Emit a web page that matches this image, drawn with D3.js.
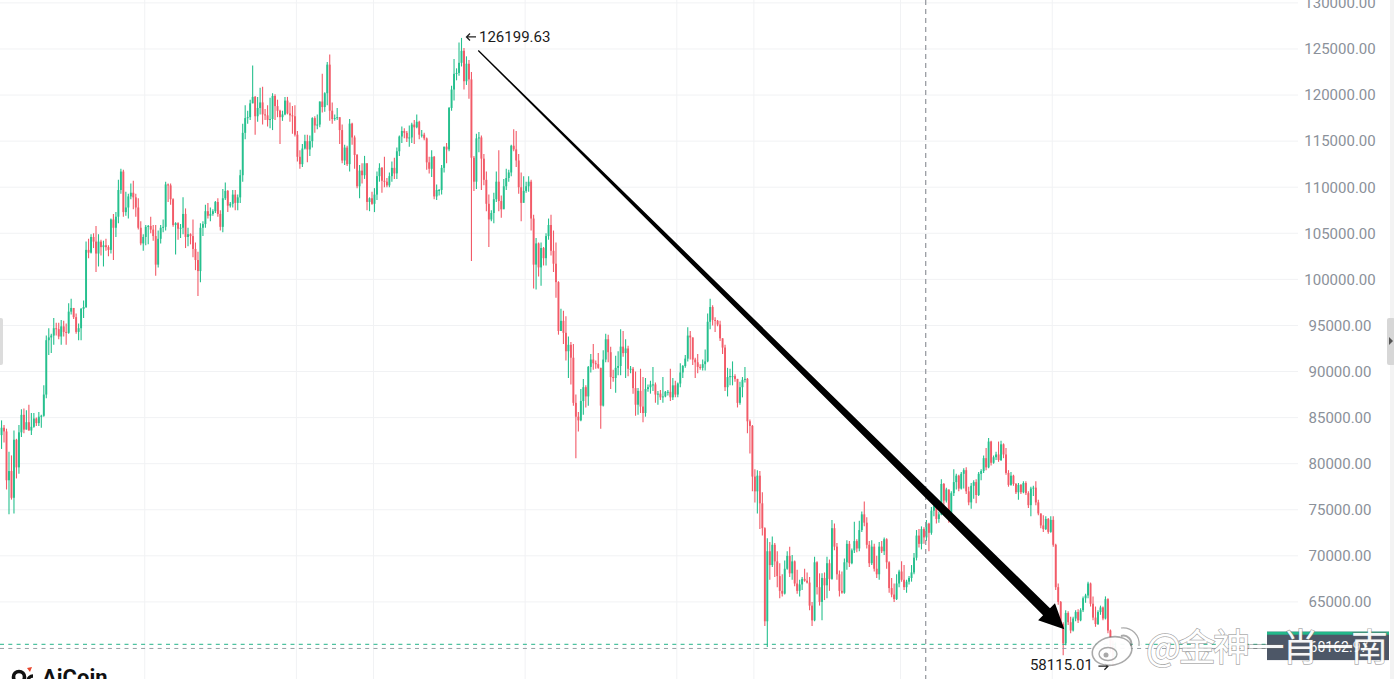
<!DOCTYPE html>
<html lang="en">
<head>
<meta charset="utf-8">
<title>BTC daily candles</title>
<script src="https://cdn.jsdelivr.net/npm/d3@7/dist/d3.min.js"></script>
<style>
  html, body { margin: 0; padding: 0; background: #fff; overflow: hidden; }
  svg { display: block; }
</style>
</head>
<body>
<script>
var w = 1394, h = 679;

// first candle day, one candle per day after it
var startDay = "2025-04-03";
var firstOpen = 82.5;

// daily close / high / low, thousand USD
var closes = [
  // 2025-04
  83.1,83.9,83.5,78.2,79.2,76.3,82.6,79.6,83.4,85.3,83.7,84.5,83.6,84.0,84.9,84.4,85.1,85.2,87.5,93.4,93.7,93.9,94.7,94.6,93.8,94.9,94.3,94.2,
  // 2025-05
  96.5,96.9,95.9,94.3,94.7,96.8,97.0,103.2,102.9,104.6,104.1,102.8,104.1,103.5,103.7,103.5,103.2,106.5,105.6,106.8,109.7,111.7,107.3,107.8,109.0,109.4,108.9,107.8,105.6,103.9,104.6,
  // 2025-06
  105.7,105.8,105.4,104.7,101.6,104.4,105.6,105.7,110.3,110.2,108.7,105.9,106.1,105.5,105.6,107.1,104.6,104.9,104.7,103.3,102.1,100.9,105.6,106.0,107.4,106.9,107.1,107.4,108.4,107.1,
  // 2025-07
  105.7,108.8,109.6,108.0,108.2,109.2,108.3,108.9,111.3,115.9,117.5,117.6,119.1,119.8,117.7,118.6,119.2,117.9,117.8,117.3,117.4,119.9,118.8,118.3,117.6,117.9,119.4,118.0,117.8,117.7,115.7,
  // 2025-08
  113.3,112.5,114.2,115.0,114.1,115.0,117.5,116.7,116.8,119.3,118.7,120.2,123.3,118.3,117.4,117.5,117.6,116.2,112.9,114.3,112.5,116.9,115.4,113.5,110.1,111.8,111.3,112.6,108.4,108.8,108.2,
  // 2025-09
  109.2,111.2,112.1,110.7,110.6,110.2,111.2,112.1,111.5,113.9,115.5,116.1,115.9,115.3,115.4,116.8,116.5,117.1,115.7,115.7,115.3,112.7,112.0,113.3,109.0,109.7,109.7,112.1,114.4,114.1,
  // 2025-10
  118.6,120.6,122.3,122.4,123.5,124.8,121.5,123.4,121.7,113.2,110.6,115.3,115.4,113.1,110.8,108.2,106.5,107.2,108.7,110.6,108.5,107.6,110.1,111.0,111.6,114.5,114.1,112.9,110.0,108.3,109.6,
  // 2025-11
  110.1,110.6,106.6,101.6,103.9,101.3,103.4,102.3,104.7,105.9,103.1,101.7,99.7,94.4,95.5,94.2,92.2,92.9,91.5,86.6,85.1,84.7,86.8,88.3,87.3,90.5,91.3,90.9,90.8,90.4,
  // 2025-12
  86.3,91.3,93.5,92.1,89.4,89.3,90.4,90.6,92.7,92.0,92.5,90.3,90.3,88.2,86.4,87.9,86.2,85.5,88.1,88.3,88.6,88.6,87.5,87.6,87.2,87.3,87.8,87.8,87.2,88.5,87.5,
  // 2026-01
  88.7,89.9,90.6,91.4,93.9,93.7,91.3,91.0,90.5,90.4,90.8,91.1,95.4,97.0,95.6,95.5,95.1,93.6,92.6,88.3,89.4,89.5,89.5,89.2,86.6,88.3,89.1,89.2,84.6,84.1,78.6,
  // 2026-02
  77.0,78.7,75.7,73.0,62.9,70.5,69.0,71.2,69.4,67.8,66.2,65.9,68.6,70.0,68.1,69.4,67.0,66.2,66.9,67.5,67.3,67.1,64.6,63.0,69.3,66.6,65.0,67.6,
  // 2026-03
  66.8,69.2,67.5,73.0,71.0,68.0,66.2,66.0,69.3,71.3,69.2,70.6,71.6,70.8,72.8,74.5,73.6,71.2,69.2,71.0,68.6,68.0,71.0,70.5,71.8,69.3,66.5,65.8,65.3,67.0,68.3,
  // 2026-04
  67.4,66.6,67.2,67.6,68.2,69.8,72.2,71.3,72.9,72.0,73.5,72.5,74.9,75.4,74.0,74.5,77.8,76.0,77.2,74.2,76.8,78.0,78.7,77.3,78.9,79.3,77.0,75.8,77.6,78.0,
  // 2026-05
  76.6,78.9,79.2,80.6,79.6,82.4,80.1,80.7,81.0,80.4,82.1,81.0,79.0,77.7,78.7,77.8,76.9,77.7,76.9,77.9,76.8,75.5,77.3,77.4,75.8,74.6,73.3,72.9,74.0,72.6,73.9,
  // 2026-06
  71.2,66.6,65.0,62.6,60.5,63.8,62.8,61.9,63.2,63.9,63.0,64.1,65.4,65.7,67.0,64.8,63.3,62.6,63.9,64.4,63.2,65.3,61.9,60.2,59.0,60.16297
];
var highs = [
  83.9,84.7,84.2,83.8,81.3,80.9,83.6,82.7,84.2,85.9,86.0,85.8,86.4,85.5,85.5,85.0,85.6,85.3,88.5,93.9,94.7,94.1,95.8,95.3,95.3,95.6,95.5,95.2,
  97.4,97.9,96.9,96.3,95.2,96.9,97.7,104.1,104.4,104.9,105.0,105.8,104.9,104.3,104.2,104.4,103.7,106.6,107.1,107.3,110.8,112.0,111.9,109.5,109.3,110.4,110.7,109.3,108.8,106.3,104.9,
  105.9,105.9,106.8,105.9,105.9,105.3,105.9,106.5,110.6,110.4,110.4,108.8,106.2,106.2,106.0,108.9,107.7,105.6,105.0,106.5,104.0,103.0,106.1,106.3,108.1,108.3,107.8,107.6,108.5,108.8,
  107.5,109.8,110.5,109.7,108.4,109.7,109.7,109.2,111.9,116.9,118.9,118.3,119.5,123.2,119.9,119.8,120.8,120.9,118.5,118.9,119.7,120.2,120.1,119.5,118.4,118.3,119.8,119.8,119.2,118.8,118.9,
  116.1,114.0,114.7,115.7,115.7,115.6,117.6,117.7,117.9,119.3,122.3,120.3,123.6,124.4,119.2,117.9,118.6,117.6,116.8,114.6,114.5,117.4,117.0,115.6,113.6,112.4,112.6,113.4,112.6,108.9,109.5,
  109.9,111.7,112.6,112.2,113.3,111.0,111.6,112.8,113.2,114.3,115.6,116.6,116.4,116.1,116.7,117.0,117.3,117.9,117.2,116.2,115.9,115.4,113.3,114.0,113.4,110.3,109.8,112.4,114.4,114.8,
  118.7,121.0,123.9,122.9,125.7,126.19963,125.1,124.2,123.8,122.5,113.4,115.8,116.0,115.6,113.6,111.7,109.2,107.5,109.4,111.7,114.0,109.1,110.9,112.0,111.9,114.6,116.3,116.1,113.6,111.6,111.2,
  110.6,111.2,110.8,107.0,104.5,104.0,104.0,103.5,105.0,106.6,107.0,105.3,104.0,99.8,96.8,96.6,96.0,93.8,93.2,93.0,87.5,85.6,88.1,89.2,88.5,90.6,91.9,93.0,91.2,92.0,
  90.4,92.3,94.1,94.0,92.7,90.2,91.7,92.2,94.6,94.4,93.5,92.8,90.6,90.5,90.0,88.2,90.3,89.4,89.3,88.6,89.0,90.5,88.8,87.9,88.0,89.4,87.9,88.0,90.3,89.3,89.0,
  88.8,90.9,90.7,91.8,94.8,94.4,93.7,91.5,91.9,90.8,91.3,92.4,96.3,97.9,97.2,95.9,95.6,95.5,93.6,92.9,90.4,90.3,91.1,89.7,89.2,88.9,89.4,90.5,89.3,84.8,84.2,
  79.4,79.3,79.2,76.9,73.1,71.9,71.5,72.1,71.4,70.5,69.2,68.0,69.5,70.5,71.0,70.1,69.5,68.5,67.4,67.7,68.6,68.2,67.7,65.0,69.9,69.4,68.1,68.1,
  68.2,69.9,69.6,73.9,73.5,71.4,68.4,68.3,69.7,71.7,71.6,70.8,73.7,71.8,73.8,74.8,75.9,74.2,71.6,71.7,71.3,70.0,71.5,71.6,72.0,71.9,69.4,67.6,67.0,68.0,68.5,
  69.4,69.0,67.4,67.8,69.0,70.3,72.8,72.9,73.2,73.1,73.9,73.6,75.3,75.9,75.6,74.8,78.3,77.9,77.4,77.2,77.0,79.4,78.9,78.8,79.1,79.5,79.6,77.5,77.9,78.2,
  78.3,79.1,79.4,80.9,81.7,82.8,82.5,80.9,81.3,82.4,82.5,82.2,81.7,79.3,79.1,78.8,77.9,77.9,77.8,78.1,78.1,77.0,77.5,77.6,78.1,76.1,74.6,74.4,74.3,74.1,74.3,
  74.3,71.3,67.0,65.1,62.8,64.1,64.0,63.4,63.4,64.1,64.2,64.3,65.6,65.9,67.2,67.1,65.6,64.5,64.1,64.6,64.5,65.6,65.4,62.0,60.8,60.6
];
var lows = [
  81.2,81.6,82.3,77.2,74.5,76.1,74.6,78.4,78.9,82.9,83.3,83.7,83.6,83.1,83.9,84.1,84.1,83.9,85.1,87.1,91.8,92.0,92.9,93.9,93.5,92.9,93.8,92.9,
  94.1,96.2,95.7,94.1,93.4,93.4,95.8,96.9,102.3,102.8,103.4,100.8,101.4,102.6,101.4,103.1,102.5,102.8,102.1,104.6,106.1,109.3,106.8,106.9,106.6,108.7,107.6,106.8,105.4,103.7,103.1,
  103.7,103.8,105.0,104.2,100.4,101.3,103.9,105.1,105.3,108.4,108.1,105.7,102.7,104.3,104.5,104.9,103.4,103.6,103.8,102.4,101.0,98.2,99.7,104.7,105.6,106.6,106.3,106.9,107.2,106.8,
  105.3,105.1,108.6,107.3,107.8,107.8,107.5,107.5,108.3,110.6,115.2,116.9,117.3,119.1,115.7,117.1,117.9,116.8,117.3,116.6,116.4,116.2,117.3,117.6,114.7,117.2,117.8,117.9,117.1,115.8,115.5,
  112.8,112.0,112.2,114.1,112.7,113.4,114.3,115.9,116.3,116.5,118.1,118.2,118.9,117.2,116.9,117.2,117.3,114.7,112.6,112.4,112.3,111.7,114.6,112.0,109.9,108.8,110.4,110.9,107.5,107.4,108.1,
  107.3,108.6,110.6,109.4,110.0,110.0,110.0,110.6,110.9,110.9,113.4,114.8,115.3,114.9,114.4,114.8,114.7,116.4,115.2,115.4,115.1,111.9,111.5,111.1,108.7,108.6,109.1,109.2,111.6,112.6,
  113.9,118.3,119.4,121.6,122.1,123.1,120.6,121.1,119.6,102.0,109.6,109.8,113.8,109.7,110.2,107.4,103.5,106.3,106.1,108.4,107.4,106.7,107.7,109.7,110.6,111.2,113.9,112.2,109.3,106.3,108.6,
  109.4,109.5,105.3,99.0,98.9,100.3,99.3,101.5,101.5,104.3,102.6,100.8,98.0,94.0,94.4,93.0,91.2,89.3,88.6,86.3,80.6,83.5,84.6,85.3,86.1,86.3,89.9,90.2,90.3,90.3,
  83.8,86.2,91.0,91.0,88.1,88.9,87.7,89.6,89.6,91.6,89.3,89.5,89.8,87.6,85.2,85.3,85.5,84.5,85.1,87.8,87.6,87.9,86.6,86.4,86.9,86.6,87.2,87.4,86.8,86.9,87.2,
  87.2,88.3,89.3,90.4,91.1,91.3,90.7,89.3,89.8,90.2,90.1,90.1,91.0,94.6,95.0,94.3,94.9,93.3,91.9,87.9,87.3,88.5,88.5,88.9,86.1,86.4,87.2,88.8,83.3,81.1,77.0,
  75.8,74.6,72.9,72.2,62.4,60.1,67.4,68.8,67.7,66.6,65.4,65.6,65.8,68.5,67.7,67.4,66.7,65.9,65.6,66.3,67.2,67.0,64.1,62.4,62.9,65.8,64.6,63.0,
  65.2,65.4,66.2,67.4,70.6,67.4,65.6,65.9,65.9,68.5,68.8,69.1,70.3,70.4,70.5,72.6,73.2,70.8,68.8,69.0,68.3,67.6,67.4,70.3,70.1,68.6,66.0,65.5,65.0,65.2,66.6,
  67.2,66.3,66.0,66.9,67.2,68.0,69.5,70.9,70.7,71.3,71.6,70.5,72.3,74.3,73.5,73.6,74.4,75.2,75.8,73.6,74.1,76.5,77.2,77.0,77.2,77.3,76.7,75.5,75.1,76.2,
  75.7,76.5,78.2,79.0,79.3,79.5,79.8,80.0,80.4,80.2,80.3,80.6,78.8,77.5,77.6,77.6,76.7,76.1,76.7,76.8,76.6,75.2,74.3,76.5,75.5,74.4,73.0,72.6,72.8,72.4,72.5,
  71.0,66.3,64.7,62.3,59.2,60.3,62.5,61.6,61.8,62.9,62.7,62.9,63.9,64.9,65.4,64.5,63.0,62.3,62.5,63.6,63.0,63.1,61.6,59.5,58.11501,58.7
];

// price levels shown on the axis (60000 sits under the last-price tag)
var priceTicks = [65, 70, 75, 80, 85, 90, 95, 100, 105, 110, 115, 120, 125, 130];
var gridMonths = ["2025-06-01", "2025-08-01", "2025-09-01", "2025-11-01",
                  "2026-01-01", "2026-02-01", "2026-04-01", "2026-06-01"];

// trend arrow drawn on the chart, [candle index, price]
var arrowFrom = [192.75, 124.83];
var arrowTo = [428.46, 62.03];
// crosshair
var crossIndex = 372.7;
var crossPrice = 59.95;

var watermark = "@金神一肖一南";

var upColor = "#26c08e", downColor = "#f25b68";

var svg = d3.select("body").append("svg")
  .attr("width", w)
  .attr("height", h);

var x = d3.scaleLinear().domain([0, closes.length - 1]).range([-0.95, 1115.4]);
var y = d3.scaleLinear().domain([60, 130]).range([648, 2.9]);
var parseDay = d3.utcParse("%Y-%m-%d");
var day0 = parseDay(startDay);

var candles = closes.map(function(c, i) {
  return { i: i, o: i ? closes[i - 1] : firstOpen, c: c, h: highs[i], l: lows[i] };
});

// grid
svg.append("g").selectAll("line")
  .data(priceTicks)
  .enter()
  .append("line")
  .attr("x1", 0).attr("x2", 1298)
  .attr("y1", function(d) { return y(d); })
  .attr("y2", function(d) { return y(d); })
  .attr("stroke", "#f1f2f4");

svg.append("g").selectAll("line")
  .data(gridMonths)
  .enter()
  .append("line")
  .attr("x1", function(d) { return x(d3.utcDay.count(day0, parseDay(d))) - 1; })
  .attr("x2", function(d) { return x(d3.utcDay.count(day0, parseDay(d))) - 1; })
  .attr("y1", 0).attr("y2", h)
  .attr("stroke", "#f1f2f4");

// candles
var cg = svg.append("g");
cg.selectAll("line")
  .data(candles)
  .enter()
  .append("line")
  .attr("x1", function(d) { return x(d.i); })
  .attr("x2", function(d) { return x(d.i); })
  .attr("y1", function(d) { return y(d.h); })
  .attr("y2", function(d) { return y(d.l); })
  .attr("stroke", function(d) { return d.c >= d.o ? upColor : downColor; })
  .attr("stroke-width", 1.1);

cg.selectAll("rect")
  .data(candles)
  .enter()
  .append("rect")
  .attr("x", function(d) { return x(d.i) - 0.95; })
  .attr("width", 1.9)
  .attr("y", function(d) { return y(Math.max(d.o, d.c)); })
  .attr("height", function(d) { return Math.max(1, Math.abs(y(d.o) - y(d.c))); })
  .attr("fill", function(d) { return d.c >= d.o ? upColor : downColor; });

// last price line and crosshair
var lastClose = closes[closes.length - 1];
var yLast = y(lastClose) - 0.6;

svg.append("line")
  .attr("x1", 0).attr("x2", 1267)
  .attr("y1", yLast - 1.6).attr("y2", yLast - 1.6)
  .attr("stroke", "#23b389")
  .attr("stroke-dasharray", "4,4.3");

svg.append("line")
  .attr("x1", 0).attr("x2", 1267)
  .attr("y1", y(crossPrice)).attr("y2", y(crossPrice))
  .attr("stroke", "#9aa0a6")
  .attr("stroke-dasharray", "4,4.3");

svg.append("line")
  .attr("x1", x(crossIndex)).attr("x2", x(crossIndex))
  .attr("y1", 0).attr("y2", h)
  .attr("stroke", "#9a9da3")
  .attr("stroke-width", 1.3)
  .attr("stroke-dasharray", "5,4");

// tapered arrow
var p0 = [x(arrowFrom[0]), y(arrowFrom[1])];
var p1 = [x(arrowTo[0]), y(arrowTo[1])];
var len = Math.hypot(p1[0] - p0[0], p1[1] - p0[1]);
var ux = (p1[0] - p0[0]) / len, uy = (p1[1] - p0[1]) / len;
var nx = -uy, ny = ux;
var headLen = 25, headHalf = 12, tail = 0.6, neck = 4.9;
var bx = p1[0] - ux * headLen, by = p1[1] - uy * headLen;
var arrowPts = [
  [p0[0] + nx * tail, p0[1] + ny * tail],
  [bx + nx * neck, by + ny * neck],
  [bx + nx * headHalf, by + ny * headHalf],
  p1,
  [bx - nx * headHalf, by - ny * headHalf],
  [bx - nx * neck, by - ny * neck],
  [p0[0] - nx * tail, p0[1] - ny * tail]
];
svg.append("path")
  .attr("d", d3.line()(arrowPts) + "Z")
  .attr("fill", "#000");

// high / low markers
var hiIdx = d3.maxIndex(highs), loIdx = d3.minIndex(lows);
var hx = x(hiIdx), hy = y(highs[hiIdx]) - 1;
svg.append("path")
  .attr("d", "M" + (hx + 14.5) + "," + hy + "H" + (hx + 5) +
             "M" + (hx + 8.5) + "," + (hy - 3.5) + "L" + (hx + 5) + "," + hy + "L" + (hx + 8.5) + "," + (hy + 3.5))
  .attr("stroke", "#222").attr("stroke-width", 1.3).attr("fill", "none");
svg.append("text")
  .attr("x", hx + 17.5).attr("y", hy + 5)
  .attr("font-family", "Roboto, 'Noto Sans', sans-serif")
  .attr("font-size", "15px")
  .attr("fill", "#1b1b1b")
  .text((highs[hiIdx] * 1000).toFixed(2));

var lx = x(loIdx), ly = y(lows[loIdx]) + 0.8;
svg.append("text")
  .attr("x", lx - 20).attr("y", ly + 4)
  .attr("text-anchor", "end")
  .attr("font-family", "Roboto, 'Noto Sans', sans-serif")
  .attr("font-size", "15px")
  .attr("fill", "#1b1b1b")
  .text((lows[loIdx] * 1000).toFixed(2));
svg.append("path")
  .attr("d", "M" + (lx - 14.5) + "," + ly + "H" + (lx - 5) +
             "M" + (lx - 8.5) + "," + (ly - 3.5) + "L" + (lx - 5) + "," + ly + "L" + (lx - 8.5) + "," + (ly + 3.5))
  .attr("stroke", "#222").attr("stroke-width", 1.3).attr("fill", "none");

// price axis
var axis = svg.append("g")
  .attr("transform", "translate(1340,0)")
  .call(d3.axisRight(y)
    .tickValues(priceTicks)
    .tickSize(0)
    .tickPadding(0)
    .tickFormat(function(d) { return (d * 1000).toFixed(2); }));
axis.select(".domain").remove();
axis.selectAll("text")
  .attr("text-anchor", "middle")
  .attr("font-family", "Roboto, 'Noto Sans', sans-serif")
  .attr("font-size", "15px")
  .attr("fill", "#8b919a");

// last price tag
svg.append("rect")
  .attr("x", 1267).attr("y", yLast - 14.2)
  .attr("width", 122).attr("height", 28.4)
  .attr("fill", "#4d5767");
svg.append("rect")
  .attr("x", 1267).attr("y", yLast - 14.2)
  .attr("width", 122).attr("height", 3)
  .attr("fill", "#22b88a");
svg.append("text")
  .attr("x", 1339).attr("y", yLast + 6)
  .attr("text-anchor", "middle")
  .attr("font-family", "Roboto, 'Noto Sans', sans-serif")
  .attr("font-size", "14px")
  .attr("fill", "#ffffff")
  .text((lastClose * 1000).toFixed(2));

// right edge and side handles
svg.append("rect").attr("x", 1390).attr("y", 0).attr("width", 4).attr("height", h).attr("fill", "#f3f3f3");
svg.append("rect").attr("x", 1387).attr("y", 318).attr("width", 8).attr("height", 47).attr("rx", 2).attr("fill", "#d7d7d7");
svg.append("path").attr("d", "M1389,337L1393,341L1389,345Z").attr("fill", "#555");
svg.append("rect").attr("x", -4).attr("y", 318).attr("width", 7).attr("height", 47).attr("rx", 2).attr("fill", "#dcdcdc");

// watermark
var wm = svg.append("g").attr("opacity", 0.95);
var wmStroke = "rgba(105,105,105,0.6)";
wm.append("ellipse").attr("cx", 1112).attr("cy", 651).attr("rx", 20).attr("ry", 14)
  .attr("transform", "rotate(-12,1112,651)")
  .attr("fill", "#fff").attr("stroke", wmStroke).attr("stroke-width", 1.6);
wm.append("ellipse").attr("cx", 1108).attr("cy", 654).attr("rx", 9).attr("ry", 6.5)
  .attr("fill", "none").attr("stroke", wmStroke).attr("stroke-width", 1.4);
wm.append("circle").attr("cx", 1106).attr("cy", 655).attr("r", 2.5).attr("fill", wmStroke);
wm.append("path").attr("d", "M1121,628 A16,16 0 0 1 1139,646")
  .attr("fill", "none").attr("stroke", "#fff").attr("stroke-width", 4).attr("stroke-linecap", "round");
wm.append("path").attr("d", "M1121,628 A16,16 0 0 1 1139,646")
  .attr("fill", "none").attr("stroke", wmStroke).attr("stroke-width", 1.2);
wm.append("path").attr("d", "M1121,636 A8,8 0 0 1 1131,646")
  .attr("fill", "none").attr("stroke", wmStroke).attr("stroke-width", 2);
wm.append("text")
  .attr("x", 1146).attr("y", 661)
  .attr("font-family", "'Noto Sans CJK SC', sans-serif")
  .attr("font-size", "37px")
  .attr("letter-spacing", "-2.5px")
  .attr("fill", "#ffffff")
  .attr("stroke", wmStroke)
  .attr("stroke-width", 1.4)
  .attr("paint-order", "stroke")
  .text(watermark);

// AiCoin logo
var logo = svg.append("g");
logo.append("circle").attr("cx", 19).attr("cy", 677).attr("r", 5.5)
  .attr("fill", "none").attr("stroke", "#111").attr("stroke-width", 3.6);
logo.append("path").attr("d", "M33,676 A5,5 0 1 0 33,686")
  .attr("fill", "none").attr("stroke", "#111").attr("stroke-width", 3.4);
logo.append("path").attr("d", "M27,668 L32,667 L30,672 Z").attr("fill", "#e8452c");
logo.append("text")
  .attr("x", 42).attr("y", 685)
  .attr("font-family", "Roboto, 'Noto Sans', sans-serif")
  .attr("font-weight", 700)
  .attr("font-size", "22px")
  .attr("fill", "#111")
  .text("AiCoin");
</script>
</body>
</html>
